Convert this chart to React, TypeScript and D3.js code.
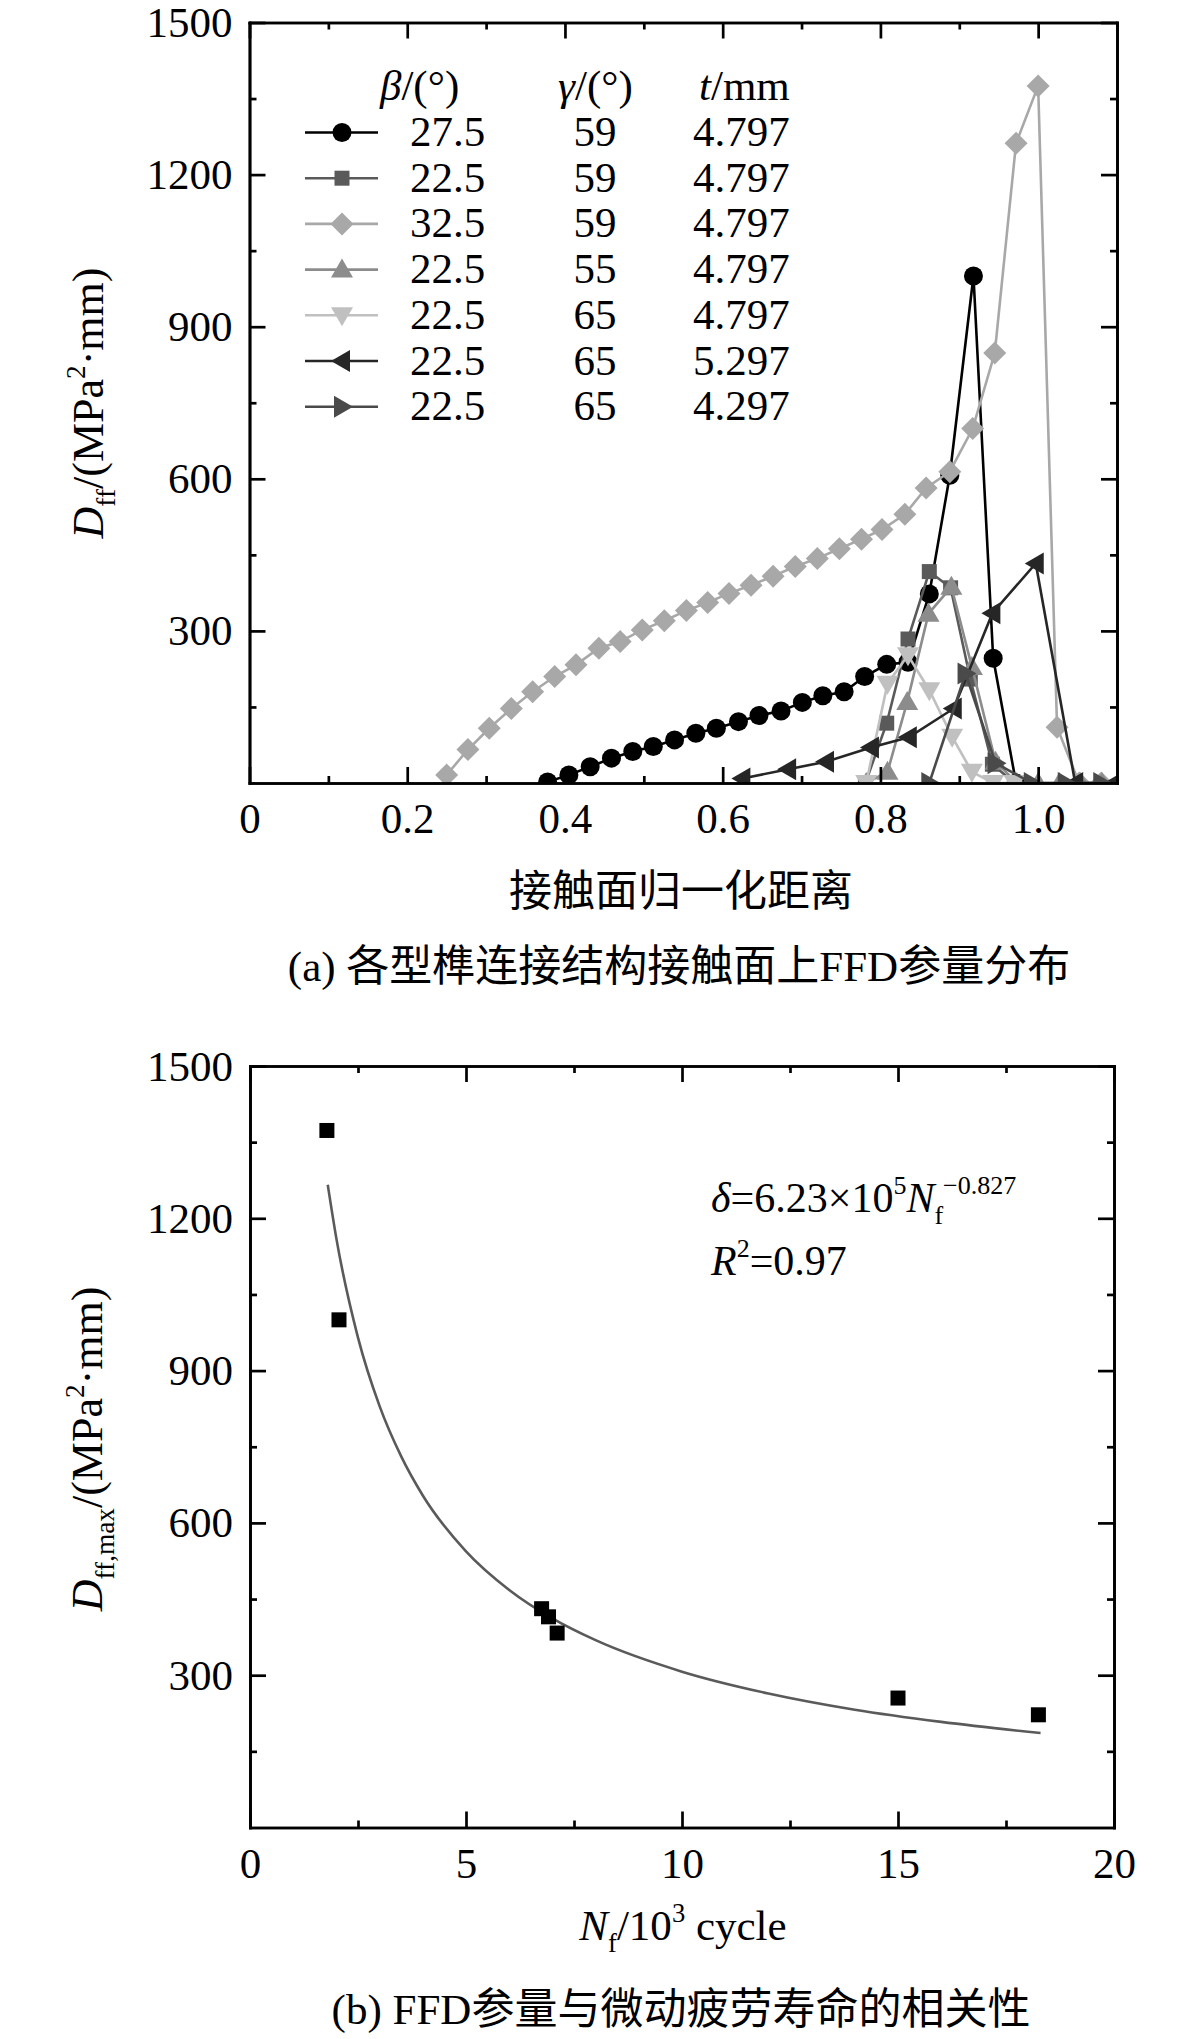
import React, { useEffect, useRef } from "react";
import * as d3 from "d3";

// ---------- panel (a): D_ff along the normalised contact distance ----------
const legendBeta = ["27.5", "22.5", "32.5", "22.5", "22.5", "22.5", "22.5"];
const legendGamma = ["59", "59", "59", "55", "65", "65", "65"];
const legendT = ["4.797", "4.797", "4.797", "4.797", "4.797", "5.297", "4.297"];

const circleX = [0.378, 0.405, 0.432, 0.459, 0.486, 0.512, 0.539, 0.566, 0.592, 0.62, 0.646, 0.674, 0.701, 0.727, 0.754, 0.78, 0.808, 0.835, 0.862, 0.888, 0.918, 0.943, 0.972];
const circleY = [2, 16, 32, 49, 62, 72, 85, 98, 108, 121, 133, 142, 159, 172, 180, 210, 234, 238, 373, 607, 1000, 246, 0];

const squareX = [0.781, 0.808, 0.835, 0.862, 0.889, 0.914, 0.942, 0.97];
const squareY = [0, 118, 284, 417, 385, 205, 37, 0];

const diamondX = [0.25, 0.277, 0.304, 0.332, 0.359, 0.387, 0.414, 0.443, 0.47, 0.498, 0.526, 0.554, 0.581, 0.608, 0.636, 0.664, 0.692, 0.72, 0.748, 0.776, 0.802, 0.831, 0.858, 0.888, 0.917, 0.945, 0.972, 1.0, 1.024, 1.052, 1.08];
const diamondY = [16, 66, 108, 147, 180, 210, 233, 266, 279, 302, 320, 340, 356, 374, 390, 408, 427, 443, 462, 481, 500, 530, 582, 614, 699, 848, 1262, 1375, 110, 0, 0];

const upX = [0.782, 0.809, 0.834, 0.861, 0.89, 0.916, 0.946, 0.973, 1.0, 1.027, 1.054, 1.081];
const upY = [0, 22, 160, 334, 387, 229, 42, 0, 0, 0, 0, 0];

const downX = [0.782, 0.809, 0.835, 0.862, 0.891, 0.916, 0.943, 0.97];
const downY = [0, 196, 252, 183, 91, 22, 0, 0];

const leftX = [0.625, 0.683, 0.731, 0.788, 0.836, 0.893, 0.942, 0.997, 1.047, 1.097];
const leftY = [9, 27, 42, 70, 90, 147, 335, 433, 0, 0];

const rightX = [0.862, 0.908, 0.946, 0.992, 1.035, 1.08];
const rightY = [0, 216, 39, 0, 0, 0];

const aTicksX = [0, 0.2, 0.4, 0.6, 0.8, 1.0];
const aTickLabelsX = ["0", "0.2", "0.4", "0.6", "0.8", "1.0"];
const aMinorX = [0.1, 0.3, 0.5, 0.7, 0.9, 1.1];
const ticksY = [300, 600, 900, 1200, 1500];
const minorY = [150, 450, 750, 1050, 1350];

// ---------- panel (b): peak D_ff vs fretting fatigue life ----------
const lifeN = [1.78, 2.06, 6.75, 6.91, 7.11, 15.0, 18.25];
const peakD = [1373, 1000, 431, 415, 383, 255, 222];

const fitN = [1.8, 2, 2.5, 3, 3.5, 4, 5, 6, 7, 8, 10, 12, 14, 16, 18.3];
const fitD = [1266, 1160, 965, 830, 731, 654, 544, 468, 412, 369, 307, 264, 232, 208, 186];

const bTicksX = [0, 5, 10, 15, 20];
const bMinorX = [2.5, 7.5, 12.5, 17.5];

type Part = { t: string; k?: "sub" | "sup"; i?: boolean };

const FONT = "'Liberation Serif', 'Times New Roman', 'Noto Sans CJK SC', serif";

const markerPath = (shape: string): string => {
  switch (shape) {
    case "circle":
      return "M-9.5,0a9.5,9.5 0 1,0 19,0a9.5,9.5 0 1,0 -19,0Z";
    case "square":
      return "M-7.5,-7.5h15v15h-15Z";
    case "diamond":
      return "M0,-11.5L11.5,0L0,11.5L-11.5,0Z";
    case "up":
      return "M0,-11L11,8L-11,8Z";
    case "down":
      return "M0,11L11,-8L-11,-8Z";
    case "left":
      return "M-11,0L8,-11L8,11Z";
    default:
      return "M11,0L-8,-11L-8,11Z";
  }
};

const seriesA = [
  { xs: circleX, ys: circleY, shape: "circle", color: "#000000" },
  { xs: squareX, ys: squareY, shape: "square", color: "#5a5a5a" },
  { xs: diamondX, ys: diamondY, shape: "diamond", color: "#a8a8a8" },
  { xs: upX, ys: upY, shape: "up", color: "#8c8c8c" },
  { xs: downX, ys: downY, shape: "down", color: "#c0c0c0" },
  { xs: leftX, ys: leftY, shape: "left", color: "#262626" },
  { xs: rightX, ys: rightY, shape: "right", color: "#4a4a4a" },
];

const App: React.FC = () => {
  const svgRef = useRef<SVGSVGElement | null>(null);

  useEffect(() => {
    if (!svgRef.current) return;
    const svg = d3.select(svgRef.current);
    svg.selectAll("*").remove();

    const rich = (
      text: d3.Selection<SVGTextElement, unknown, null, undefined>,
      parts: Part[],
      size: number
    ) => {
      let shift = 0;
      parts.forEach((p) => {
        let target = 0;
        let fs = size;
        if (p.k === "sub") {
          target = 0.28 * size;
          fs = size * 0.62;
        } else if (p.k === "sup") {
          target = -0.42 * size;
          fs = size * 0.62;
        }
        const ts = text
          .append("tspan")
          .attr("dy", target - shift)
          .attr("font-size", fs)
          .text(p.t);
        if (p.i) ts.attr("font-style", "italic");
        shift = target;
      });
    };

    // Frame with inward ticks on all four sides
    const frame = (
      x: d3.ScaleLinear<number, number>,
      y: d3.ScaleLinear<number, number>,
      majorX: number[],
      labelsX: string[],
      minorX: number[]
    ) => {
      const [x0, x1] = x.range();
      const [y0, y1] = y.range();
      const style = (g: d3.Selection<SVGGElement, unknown, null, undefined>) => {
        g.attr("font-family", FONT).attr("font-size", 43);
        g.select(".domain").attr("stroke-width", 2.7).attr("stroke-linecap", "square");
        g.selectAll(".tick line").attr("stroke-width", 2.7);
      };

      svg
        .append("g")
        .attr("transform", `translate(0,${y0})`)
        .call(
          d3
            .axisBottom(x)
            .tickValues(majorX)
            .tickSize(-16)
            .tickSizeOuter(0)
            .tickFormat((_, i) => labelsX[i])
        )
        .call(style)
        .call((g) => g.selectAll(".tick text").attr("y", 50).attr("dy", null));
      svg
        .append("g")
        .attr("transform", `translate(0,${y0})`)
        .call(d3.axisBottom(x).tickValues(minorX).tickSize(-7).tickSizeOuter(0).tickFormat(() => ""))
        .call(style);
      svg
        .append("g")
        .attr("transform", `translate(0,${y1})`)
        .call(d3.axisTop(x).tickValues(majorX).tickSize(-16).tickSizeOuter(0).tickFormat(() => ""))
        .call(style);
      svg
        .append("g")
        .attr("transform", `translate(0,${y1})`)
        .call(d3.axisTop(x).tickValues(minorX).tickSize(-7).tickSizeOuter(0).tickFormat(() => ""))
        .call(style);
      svg
        .append("g")
        .attr("transform", `translate(${x0},0)`)
        .call(d3.axisLeft(y).tickValues(ticksY).tickSize(-16).tickSizeOuter(0).tickFormat(d3.format("d")))
        .call(style)
        .call((g) => g.selectAll(".tick text").attr("x", -17).attr("y", 14).attr("dy", null));
      svg
        .append("g")
        .attr("transform", `translate(${x0},0)`)
        .call(d3.axisLeft(y).tickValues(minorY).tickSize(-7).tickSizeOuter(0).tickFormat(() => ""))
        .call(style);
      svg
        .append("g")
        .attr("transform", `translate(${x1},0)`)
        .call(d3.axisRight(y).tickValues(ticksY).tickSize(-16).tickSizeOuter(0).tickFormat(() => ""))
        .call(style);
      svg
        .append("g")
        .attr("transform", `translate(${x1},0)`)
        .call(d3.axisRight(y).tickValues(minorY).tickSize(-7).tickSizeOuter(0).tickFormat(() => ""))
        .call(style);
    };

    // ================= Panel (a) =================
    const xa = d3.scaleLinear().domain([0, 1.1]).range([249.5, 1117]);
    const ya = d3.scaleLinear().domain([0, 1500]).range([783, 22.5]);

    svg
      .append("clipPath")
      .attr("id", "clip-a")
      .append("rect")
      .attr("x", 249.5)
      .attr("y", 22.5)
      .attr("width", 1117 - 249.5)
      .attr("height", 783 - 22.5);

    const plotA = svg.append("g").attr("clip-path", "url(#clip-a)");
    const lineA = d3
      .line<[number, number]>()
      .x((d) => xa(d[0]))
      .y((d) => ya(d[1]));

    seriesA.forEach((s) => {
      const pts = s.xs.map((v, i) => [v, s.ys[i]] as [number, number]);
      plotA
        .append("path")
        .datum(pts)
        .attr("fill", "none")
        .attr("stroke", s.color)
        .attr("stroke-width", 2.6)
        .attr("d", lineA);
      plotA
        .selectAll(null)
        .data(pts)
        .join("path")
        .attr("transform", (d) => `translate(${xa(d[0])},${ya(d[1])})`)
        .attr("fill", s.color)
        .attr("d", markerPath(s.shape));
    });

    frame(xa, ya, aTicksX, aTickLabelsX, aMinorX);

    // Legend
    const legend = svg.append("g").attr("font-family", FONT).attr("font-size", 43);
    const headerY = 100;
    rich(legend.append("text").attr("x", 380).attr("y", headerY), [{ t: "β", i: true }, { t: "/(°)" }], 43);
    rich(legend.append("text").attr("x", 558).attr("y", headerY), [{ t: "γ", i: true }, { t: "/(°)" }], 43);
    rich(legend.append("text").attr("x", 699).attr("y", headerY), [{ t: "t", i: true }, { t: "/mm" }], 43);
    seriesA.forEach((s, i) => {
      const base = 146 + i * 45.7;
      const cy = base - 13.5;
      legend
        .append("line")
        .attr("x1", 305)
        .attr("x2", 378)
        .attr("y1", cy)
        .attr("y2", cy)
        .attr("stroke", s.color)
        .attr("stroke-width", 2.6);
      legend
        .append("path")
        .attr("transform", `translate(342,${cy})`)
        .attr("fill", s.color)
        .attr("d", markerPath(s.shape));
      legend.append("text").attr("x", 410).attr("y", base).text(legendBeta[i]);
      legend.append("text").attr("x", 595).attr("y", base).attr("text-anchor", "middle").text(legendGamma[i]);
      legend.append("text").attr("x", 693).attr("y", base).text(legendT[i]);
    });

    // Titles (a)
    rich(
      svg
        .append("text")
        .attr("font-family", FONT)
        .attr("text-anchor", "middle")
        .attr("transform", "translate(103,403) rotate(-90)"),
      [{ t: "D", i: true }, { t: "ff", k: "sub" }, { t: "/(MPa" }, { t: "2", k: "sup" }, { t: "·mm)" }],
      44
    );
    svg
      .append("text")
      .attr("font-family", FONT)
      .attr("font-size", 43)
      .attr("text-anchor", "middle")
      .attr("x", 681)
      .attr("y", 906)
      .text("接触面归一化距离");
    svg
      .append("text")
      .attr("font-family", FONT)
      .attr("font-size", 43)
      .attr("text-anchor", "middle")
      .attr("x", 679)
      .attr("y", 981)
      .text("(a) 各型榫连接结构接触面上FFD参量分布");

    // ================= Panel (b) =================
    const xb = d3.scaleLinear().domain([0, 20]).range([250, 1114]);
    const yb = d3.scaleLinear().domain([0, 1500]).range([1827.5, 1066]);

    const fit = fitN.map((v, i) => [v, fitD[i]] as [number, number]);
    svg
      .append("path")
      .datum(fit)
      .attr("fill", "none")
      .attr("stroke", "#5a5a5a")
      .attr("stroke-width", 2.6)
      .attr(
        "d",
        d3
          .line<[number, number]>()
          .curve(d3.curveMonotoneX)
          .x((d) => xb(d[0]))
          .y((d) => yb(d[1]))
      );

    svg
      .append("g")
      .selectAll("rect")
      .data(lifeN.map((v, i) => [v, peakD[i]]))
      .join("rect")
      .attr("x", (d) => xb(d[0]) - 7.5)
      .attr("y", (d) => yb(d[1]) - 7.5)
      .attr("width", 15)
      .attr("height", 15)
      .attr("fill", "#000");

    frame(xb, yb, bTicksX, bTicksX.map(String), bMinorX);

    rich(
      svg.append("text").attr("font-family", FONT).attr("x", 711).attr("y", 1212),
      [
        { t: "δ", i: true },
        { t: "=6.23×10" },
        { t: "5", k: "sup" },
        { t: "N", i: true },
        { t: "f", k: "sub" },
        { t: "−0.827", k: "sup" },
      ],
      42
    );
    rich(
      svg.append("text").attr("font-family", FONT).attr("x", 711).attr("y", 1275),
      [{ t: "R", i: true }, { t: "2", k: "sup" }, { t: "=0.97" }],
      42
    );

    rich(
      svg
        .append("text")
        .attr("font-family", FONT)
        .attr("text-anchor", "middle")
        .attr("transform", "translate(102,1449) rotate(-90)"),
      [{ t: "D", i: true }, { t: "ff,max", k: "sub" }, { t: "/(MPa" }, { t: "2", k: "sup" }, { t: "·mm)" }],
      44
    );
    rich(
      svg.append("text").attr("font-family", FONT).attr("text-anchor", "middle").attr("x", 683).attr("y", 1940),
      [{ t: "N", i: true }, { t: "f", k: "sub" }, { t: "/10" }, { t: "3", k: "sup" }, { t: " cycle" }],
      43
    );
    svg
      .append("text")
      .attr("font-family", FONT)
      .attr("font-size", 43)
      .attr("text-anchor", "middle")
      .attr("x", 681)
      .attr("y", 2024)
      .text("(b) FFD参量与微动疲劳寿命的相关性");

    return () => {
      svg.selectAll("*").remove();
    };
  }, []);

  return (
    <svg
      ref={svgRef}
      width={1181}
      height={2039}
      style={{ position: "absolute", left: 0, top: 0, background: "#fff" }}
    />
  );
};

export default App;
